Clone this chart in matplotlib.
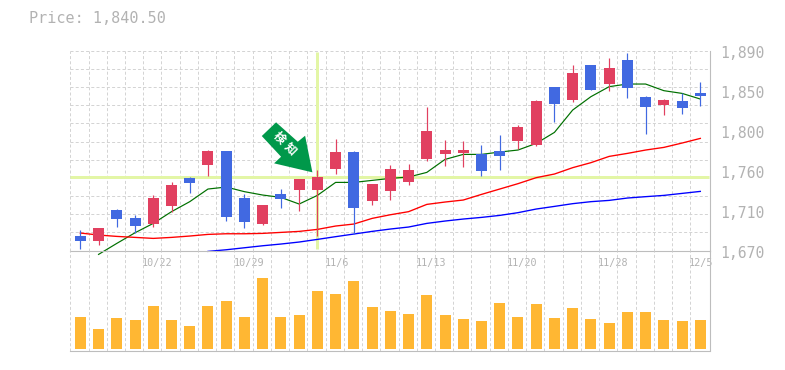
import numpy as np
import matplotlib
matplotlib.use("Agg")
import matplotlib.pyplot as plt
from matplotlib.patches import Polygon
from matplotlib.transforms import Affine2D

# ---------- data ----------
opens_top = [1686.1,1694.9,1714.7,1705.9,1727.9,1742.2,1749.9,1779.6,1779.6,1727.9,1720.2,1732.3,1748.8,1751.0,
             1778.5,1778.5,1743.3,1759.8,1758.7,1801.6,1780.7,1780.7,1776.3,1779.6,1806.0,1834.6,1850.0,1865.4,
             1874.2,1870.9,1879.7,1839.0,1835.7,1834.6,1843.4]
body_bottom = [1680.6,1680.6,1704.8,1697.1,1699.3,1719.1,1744.4,1764.2,1707.0,1701.5,1699.3,1726.8,1736.7,1736.7,
               1759.8,1716.9,1724.6,1735.6,1745.5,1770.8,1776.3,1777.4,1757.6,1774.1,1790.6,1786.2,1831.3,1835.7,
               1846.7,1853.3,1848.9,1828.0,1830.2,1826.9,1840.1]
highs = [1692.7,1694.9,1715.8,1709.2,1731.2,1745.5,1751.0,1780.7,1779.6,1732.3,1720.2,1737.8,1748.8,1758.7,
         1792.8,1779.6,1743.3,1764.2,1765.3,1828.0,1791.7,1790.6,1786.2,1797.2,1808.2,1835.7,1850.0,1874.2,
         1874.2,1881.9,1887.4,1840.1,1836.8,1843.4,1855.5]
lows = [1671.8,1676.2,1696.0,1689.4,1696.0,1712.5,1733.4,1752.1,1702.6,1694.9,1698.2,1716.9,1713.6,1686.1,
        1754.3,1688.3,1720.2,1725.7,1742.2,1768.6,1763.1,1762.0,1752.1,1758.7,1781.8,1785.1,1811.5,1833.5,
        1846.7,1845.6,1837.9,1798.3,1819.2,1820.3,1829.1]
rising = [0,1,0,0,1,1,0,1,0,0,1,0,1,1,1,0,1,1,1,1,1,1,0,0,1,1,0,1,0,1,0,0,1,0,0]
ma_short = [1665.9,1678.0,1689.7,1700.0,1712.9,1723.9,1737.8,1740.0,1734.9,1731.2,1728.6,1721.3,1730.8,1745.1,
            1745.1,1747.3,1749.5,1751.0,1756.1,1770.4,1775.9,1775.9,1778.5,1780.7,1788.0,1800.1,1824.7,1839.4,
            1850.4,1853.3,1853.3,1846.0,1843.0,1836.8]
ma_mid = [1689.4,1687.2,1685.7,1684.6,1683.5,1684.6,1686.1,1687.9,1688.6,1688.6,1689.0,1690.1,1691.2,1693.4,
          1697.1,1699.3,1705.5,1709.5,1712.9,1720.9,1723.5,1725.7,1731.9,1737.8,1743.7,1750.3,1754.3,1761.3,
          1766.8,1773.7,1777.0,1780.7,1783.6,1788.4,1793.5]
ma_long = [1669.2,1671.0,1673.2,1675.4,1677.3,1679.5,1682.4,1685.4,1688.3,1691.2,1693.8,1696.0,1700.0,1702.6,
           1704.8,1706.6,1708.8,1711.8,1715.8,1718.7,1721.7,1723.9,1725.3,1727.9,1729.4,1730.8,1733.0,1735.2]
volume = [96,60,93,87,129,87,69,129,144,96,213,96,102,174,165,204,126,114,105,162,102,90,84,138,96,135,93,123,
          90,78,111,111,87,84,87]
date_ticks = [4,9,14,19,24,29,34]
date_labels = ["10/22","10/29","11/6","11/13","11/20","11/28","12/5"]
price_tick_values = [1890,1846,1802,1758,1714,1670]
price_tick_labels = ["1,890","1,850","1,800","1,760","1,710","1,670"]
current_price = 1750.6
signal_index = 13
title_text = "Price: 1,840.50"
signal_text = ["検", "知"]

# ---------- style ----------
W, H = 785, 370
RED, BLUE, ORANGE = "#E14060", "#4169E1", "#FFB733"
GRID, AXIS, TXT, CROSS = "#D4D4D4", "#BDBDBD", "#B2B2B2", "#E3F6A6"
PX = 0.72
MONO = "DejaVu Sans Mono"

fig = plt.figure(figsize=(W/100, H/100), dpi=100, facecolor="white")
L, R = 70.3, 710.3
def make_ax(top, bot):
    return fig.add_axes([L/W, 1-bot/H, (R-L)/W, (bot-top)/H])
ax = make_ax(50.67, 250.67)
axv = make_ax(250.67, 350.5)

xlim = (0, (R-L)/18.235)
x = np.arange(len(volume)) + 0.55
bw = 11/18.235

for a in (ax, axv):
    a.set_xlim(*xlim)
    a.patch.set_alpha(0)
    for s in ("top", "left"):
        a.spines[s].set_visible(False)
    for s in ("bottom", "right"):
        a.spines[s].set_color(AXIS)
        a.spines[s].set_linewidth(1.1*PX)
    a.set_xticks(np.arange(0, 35))
    a.tick_params(length=0, labelbottom=False, labelleft=False)
    a.grid(axis="x", color=GRID, lw=PX, ls=(0, (3, 2.2)), zorder=0)
    a.set_axisbelow(True)

ax.set_ylim(1670, 1890)
ax.set_yticks(np.arange(1690, 1891, 20))
ax.grid(axis="y", color=GRID, lw=PX, ls=(0, (3, 2.2)), zorder=0)

axv.set_ylim(-6, 293.5)
axv.set_yticks([])
axv.bar(x, volume, width=bw, color=ORANGE, zorder=3, antialiased=False)

# crosshair
ax.plot([0, xlim[1]-0.05], [current_price]*2, color=CROSS, lw=3*PX, zorder=1, solid_capstyle="butt")
ax.plot([x[signal_index]]*2, [1672, 1889], color=CROSS, lw=3*PX, zorder=1, solid_capstyle="butt")

# moving averages
ax.plot(x[1:], ma_short, color="#007000", lw=1.2*PX, zorder=2, clip_on=False)
ax.plot(x, ma_mid, color="#FF0000", lw=1.35*PX, zorder=2)
ax.plot(x[7:], ma_long, color="#0000FF", lw=1.35*PX, zorder=2, clip_on=False)

# candles
colors = [RED if r else BLUE for r in rising]
tops, bots = np.array(opens_top), np.array(body_bottom)
ax.vlines(x, lows, highs, colors=colors, lw=1.2*PX, zorder=3)
ax.bar(x, tops-bots, bottom=bots, width=bw, color=colors, zorder=4, antialiased=False)

# labels
for v, s in zip(price_tick_values, price_tick_labels):
    ax.annotate(s, xy=(1, v), xycoords=ax.get_yaxis_transform(), xytext=(10*PX, -2.7*PX),
                textcoords="offset points", va="center", ha="left", family=MONO,
                fontsize=10.6, color=TXT, annotation_clip=False)
for i, s in zip(date_ticks, date_labels):
    ax.annotate(s, xy=(i, 0), xycoords=ax.get_xaxis_transform(), xytext=(-1*PX, -12.3*PX),
                textcoords="offset points", va="center", ha="left", family=MONO,
                fontsize=7.3, color=TXT, annotation_clip=False)
fig.text(29/W, 1-18.5/H, title_text, family=MONO, fontsize=10.9, color=TXT, va="center", ha="left")

# signal arrow, positioned relative to the signal candle
ax_anchor = (x[signal_index], highs[signal_index]-7.7)
anchor_px = ax.transData.transform(ax_anchor)
shape = [(-41.3,-54.7),(-19.6,-35.3),(-12.3,-41.3),(-5,-4.7),(-43.3,-13.7),(-36.3,-20.3),(-55.6,-41)]
tr = Affine2D().scale(1, -1).translate(*anchor_px)
ax.add_patch(Polygon(shape, closed=True, facecolor="#00984A", edgecolor="none", transform=tr, zorder=6, clip_on=False))
for ch, off in zip(signal_text, [(-38.3, 39), (-27.3, 28)]):
    ax.annotate(ch, xy=ax_anchor, xycoords="data", xytext=(off[0]*PX, off[1]*PX), textcoords="offset points",
                ha="center", va="center", rotation=-45, rotation_mode="anchor", color="white",
                family="Noto Sans CJK JP", fontweight="bold", fontsize=8.5, zorder=7, annotation_clip=False)

fig.savefig("out.png", dpi=100, facecolor="white")
